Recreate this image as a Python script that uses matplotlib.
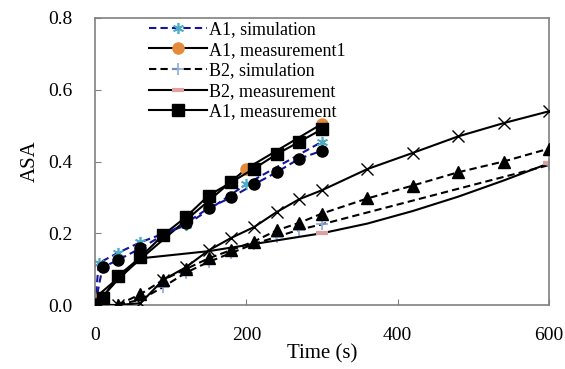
import matplotlib
matplotlib.use("Agg")
import matplotlib.pyplot as plt

plt.rcParams['font.family'] = ['Liberation Serif', 'DejaVu Serif']

# ---- data ----
t_a1_sim = [0, 5, 30, 60, 120, 200, 300]
y_a1_sim = [0.0, 0.117, 0.145, 0.175, 0.222, 0.337, 0.455]

t_a1_meas1 = [0, 200, 300]
y_a1_meas1 = [0.02, 0.38, 0.505]

t_b2_sim = [0, 30, 60, 90, 120, 150, 180, 210, 240, 270, 300, 600]
y_b2_sim = [0.0, 0.0, 0.015, 0.05, 0.09, 0.12, 0.145, 0.17, 0.19, 0.21, 0.225, 0.39]

t_b2_meas = [0, 30, 60, 150, 210, 300, 360, 420, 480, 540, 600]
y_b2_meas = [0.0, 0.07, 0.13, 0.15, 0.17, 0.20, 0.227, 0.262, 0.302, 0.347, 0.395]

t_a1_meas = [0, 10, 30, 60, 90, 120, 150, 180, 210, 240, 270, 300]
y_a1_meas = [0.0, 0.02, 0.08, 0.133, 0.195, 0.245, 0.305, 0.342, 0.38, 0.42, 0.455, 0.49]

t_circ = [0, 10, 30, 60, 90, 120, 150, 180, 210, 240, 270, 300]
y_circ = [0.0, 0.105, 0.125, 0.158, 0.195, 0.228, 0.27, 0.30, 0.336, 0.37, 0.408, 0.43]

t_cross = [0, 30, 60, 90, 120, 150, 180, 210, 240, 270, 300, 360, 420, 480, 540, 600]
y_cross = [0.0, 0.0, 0.005, 0.07, 0.105, 0.152, 0.187, 0.217, 0.259, 0.295, 0.32,
           0.379, 0.424, 0.47, 0.507, 0.54]

t_tri = [0, 30, 60, 90, 120, 150, 180, 210, 240, 270, 300, 360, 420, 480, 540, 600]
y_tri = [0.0, 0.0, 0.03, 0.07, 0.10, 0.13, 0.153, 0.177, 0.208, 0.229, 0.255,
         0.297, 0.333, 0.37, 0.40, 0.436]

x_ticks = [0, 200, 400, 600]
y_ticks = [0.0, 0.2, 0.4, 0.6, 0.8]

fig = plt.figure(figsize=(5.65, 3.69), dpi=100)
ax = fig.add_axes([95/565, 1-305/369, (549-95)/565, (305-18)/369])

dash = (0, (3.5, 2))
lw = 1.5

# colored series (drawn first)
ax.plot(t_a1_sim, y_a1_sim, linestyle=dash, color='#15159a', lw=lw,
        marker=(6, 2, 0), ms=8, mec='#4bacc6', mew=1.2, label='A1, simulation', zorder=2)
ax.plot(t_a1_meas1, y_a1_meas1, linestyle='-', color='black', lw=lw,
        marker='o', ms=8, mfc='#e38b3a', mec='#e38b3a', label='A1, measurement1', zorder=2)
ax.plot(t_b2_sim, y_b2_sim, linestyle=dash, color='black', lw=lw,
        marker='+', ms=8, mec='#8eaadb', mew=1.2, label='B2, simulation', zorder=2)
ax.plot(t_b2_meas, y_b2_meas, linestyle='-', color='black', lw=lw,
        marker='_', ms=8, mec='#e0a0a0', mew=3, label='B2, measurement', zorder=2,
        markevery=[1, 5, 10])

# black-marker series
ax.plot(t_circ, y_circ, linestyle=dash, color='#15159a', lw=lw,
        marker='o', ms=8, mfc='black', mec='black', zorder=3)
ax.plot(t_cross, y_cross, linestyle='-', color='black', lw=lw,
        marker='x', ms=9, mec='black', mew=1.0, zorder=3)
ax.plot(t_tri, y_tri, linestyle=dash, color='black', lw=lw,
        marker='^', ms=8, mfc='black', mec='black', zorder=3)
ax.plot(t_a1_meas, y_a1_meas, linestyle='-', color='black', lw=lw,
        marker='s', ms=8, mfc='black', mec='black', label='A1, measurement', zorder=4)

ax.set_xlim(0, 600)
ax.set_ylim(0, 0.8)
ax.set_xticks(x_ticks)
ax.set_yticks(y_ticks)
ax.set_xticklabels([str(v) for v in x_ticks])
ax.set_yticklabels([f"{v:.1f}" for v in y_ticks])
ax.tick_params(direction='in', length=4, color='#808080', labelsize=14)
ax.tick_params(axis='x', pad=16)
ax.tick_params(axis='y', pad=16)
for s in ax.spines.values():
    s.set_color('#808080')
    s.set_linewidth(1.2)

ax.set_xlabel('Time (s)', fontsize=15, labelpad=0)
ax.set_ylabel('ASA', fontsize=15, labelpad=6)

handles, labels = ax.get_legend_handles_labels()
leg = fig.legend(handles, labels, loc='upper left', bbox_to_anchor=(149/565, 1-21/369),
                 frameon=False, fontsize=13, handlelength=3.2, handletextpad=0.15,
                 labelspacing=0.2, borderpad=0, borderaxespad=0)

fig.savefig('out.png', dpi=100)
